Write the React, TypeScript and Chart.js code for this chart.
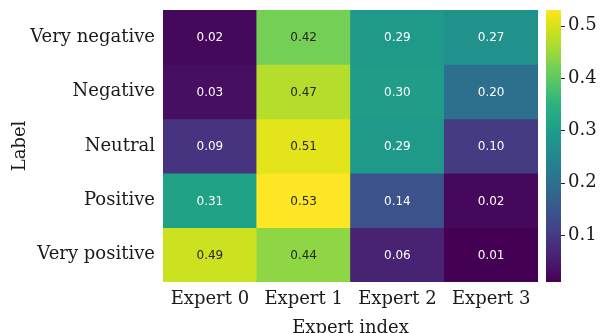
import { useEffect, useRef } from "react";
import { Chart, registerables } from "chart.js";

Chart.register(...registerables);

// Heatmap categories
const experts = ["Expert 0", "Expert 1", "Expert 2", "Expert 3"];
const sentiments = ["Very negative", "Negative", "Neutral", "Positive", "Very positive"];

// Share of each sentiment routed to each expert (one array per row)
const veryNegative = [0.02, 0.42, 0.29, 0.27];
const negative = [0.03, 0.47, 0.3, 0.2];
const neutral = [0.09, 0.51, 0.29, 0.1];
const positive = [0.31, 0.53, 0.14, 0.02];
const veryPositive = [0.49, 0.44, 0.06, 0.01];
const rows = [veryNegative, negative, neutral, positive, veryPositive];

// Colour bar ticks
const colorbarTicks = [0.1, 0.2, 0.3, 0.4, 0.5];

const allValues = rows.flat();
const vmin = Math.min(...allValues);
const vmax = Math.max(...allValues);

// Viridis colormap, sampled every 0.05
const VIRIDIS: [number, number, number][] = [
  [68, 1, 84], [71, 19, 101], [72, 36, 117], [70, 51, 127], [65, 68, 135],
  [59, 82, 139], [53, 95, 141], [47, 108, 142], [42, 120, 142], [37, 132, 142],
  [33, 145, 140], [30, 155, 138], [34, 168, 132], [42, 176, 127], [68, 191, 112],
  [94, 201, 98], [122, 209, 81], [160, 218, 57], [189, 223, 38], [221, 227, 24],
  [253, 231, 37],
];

function viridisRGB(t: number): [number, number, number] {
  const c = Math.max(0, Math.min(1, t)) * (VIRIDIS.length - 1);
  const i = Math.min(Math.floor(c), VIRIDIS.length - 2);
  const f = c - i;
  const a = VIRIDIS[i];
  const b = VIRIDIS[i + 1];
  return [0, 1, 2].map((k) => Math.round(a[k] + (b[k] - a[k]) * f)) as [number, number, number];
}

function norm(v: number) {
  return (v - vmin) / (vmax - vmin);
}

function colorFor(v: number) {
  const [r, g, b] = viridisRGB(norm(v));
  return `rgb(${r},${g},${b})`;
}

function textColorFor(v: number) {
  const lin = viridisRGB(norm(v)).map((c) => {
    const s = c / 255;
    return s <= 0.03928 ? s / 12.92 : Math.pow((s + 0.055) / 1.055, 2.4);
  });
  const lum = 0.2126 * lin[0] + 0.7152 * lin[1] + 0.0722 * lin[2];
  return lum > 0.408 ? "#262626" : "#ffffff";
}

const serif = "'DejaVu Serif', serif";
const inkColor = "#1a1a1a";

// Writes the value in the middle of every cell
const cellLabels = {
  id: "cellLabels",
  afterDatasetsDraw(chart: any) {
    const { ctx } = chart;
    ctx.save();
    ctx.font = "12px 'DejaVu Sans', sans-serif";
    ctx.textAlign = "center";
    ctx.textBaseline = "middle";
    chart.data.datasets.forEach((ds: any, r: number) => {
      const meta = chart.getDatasetMeta(r);
      meta.data.forEach((el: any, c: number) => {
        const { x, y, base } = el.getProps(["x", "y", "base"], true);
        const v = rows[r][c];
        ctx.fillStyle = textColorFor(v);
        ctx.fillText(v.toFixed(2), x, (y + base) / 2 + 1);
      });
    });
    ctx.restore();
  },
};

// Vertical colour bar drawn along the right-hand value scale
const colorBar = {
  id: "colorBar",
  afterDraw(chart: any) {
    const { ctx, chartArea } = chart;
    const scale = chart.scales.cbar;
    const x0 = chartArea.right + 8;
    const w = 15;
    const yTop = scale.getPixelForValue(vmax);
    const yBot = scale.getPixelForValue(vmin);
    const grad = ctx.createLinearGradient(0, yBot, 0, yTop);
    for (let i = 0; i < VIRIDIS.length; i++) {
      const [r, g, b] = VIRIDIS[i];
      grad.addColorStop(i / (VIRIDIS.length - 1), `rgb(${r},${g},${b})`);
    }
    ctx.save();
    ctx.fillStyle = grad;
    ctx.fillRect(x0, yTop, w, yBot - yTop);
    ctx.strokeStyle = "#262626";
    ctx.lineWidth = 1;
    colorbarTicks.forEach((t) => {
      const y = Math.round(scale.getPixelForValue(t)) + 0.5;
      ctx.beginPath();
      ctx.moveTo(x0 + w, y);
      ctx.lineTo(x0 + w + 4, y);
      ctx.stroke();
    });
    ctx.restore();
  },
};

// Vertical axes: fixed width and no extra room reserved for label overflow
const fixWidth = (w: number) => (s: any) => {
  s.width = w;
  s.paddingTop = 0;
  s.paddingBottom = 0;
};

export default function App() {
  const canvasRef = useRef<HTMLCanvasElement | null>(null);

  useEffect(() => {
    document.body.style.margin = "0";
    const canvas = canvasRef.current;
    if (!canvas) return;

    const chart = new Chart(canvas, {
      type: "bar",
      data: {
        labels: experts,
        datasets: rows.map((vals, r) => ({
          label: sentiments[r],
          data: vals.map(() => [r, r + 1]) as any,
          backgroundColor: vals.map(colorFor),
          borderWidth: 0,
          barPercentage: 1,
          categoryPercentage: 1,
          grouped: false,
          yAxisID: "y",
        })),
      },
      options: {
        animation: false,
        responsive: true,
        maintainAspectRatio: false,
        devicePixelRatio: 1,
        layout: { padding: { top: 10, left: 0, right: 0, bottom: 0 } },
        plugins: {
          legend: { display: false },
          tooltip: { enabled: false },
        },
        scales: {
          x: {
            type: "category",
            offset: true,
            grid: { display: false, drawTicks: false },
            border: { display: false },
            ticks: {
              font: { family: serif, size: 18 },
              color: inkColor,
              padding: 7,
              maxRotation: 0,
            },
            title: {
              display: true,
              text: "Expert index",
              font: { family: serif, size: 18, lineHeight: 1.2 },
              color: inkColor,
              padding: { top: 0, bottom: -6 },
            },
            afterFit: (s: any) => {
              s.height = 51;
              s.paddingLeft = 0;
              s.paddingRight = 0;
            },
          },
          y: {
            type: "linear",
            min: 0,
            max: sentiments.length,
            reverse: true,
            grid: { display: false, drawTicks: false },
            border: { display: false },
            afterBuildTicks: (s: any) => {
              s.ticks = sentiments.map((_, i) => ({ value: i + 0.5 }));
            },
            ticks: {
              autoSkip: false,
              font: { family: serif, size: 18 },
              color: inkColor,
              padding: 8,
              callback: (_v: any, i: number) => sentiments[i],
            },
            title: {
              display: true,
              text: "Label",
              font: { family: serif, size: 18, lineHeight: 1.2 },
              color: inkColor,
              padding: { top: 10, bottom: 0 },
            },
            afterFit: fixWidth(163),
          },
          cbar: {
            type: "linear",
            position: "right",
            min: vmin,
            max: vmax,
            grid: {
              display: true,
              drawOnChartArea: false,
              drawTicks: true,
              tickLength: 27,
              color: "rgba(0,0,0,0)",
            },
            border: { display: false },
            afterBuildTicks: (s: any) => {
              s.ticks = colorbarTicks.map((v) => ({ value: v }));
            },
            ticks: {
              autoSkip: false,
              font: { family: serif, size: 18 },
              color: inkColor,
              padding: 3,
              callback: (v: any) => Number(v).toFixed(1),
            },
            afterFit: fixWidth(65),
          },
        },
      },
      plugins: [cellLabels, colorBar],
    });

    return () => chart.destroy();
  }, []);

  return (
    <div style={{ position: "relative", width: 603, height: 333 }}>
      <canvas ref={canvasRef} />
    </div>
  );
}
